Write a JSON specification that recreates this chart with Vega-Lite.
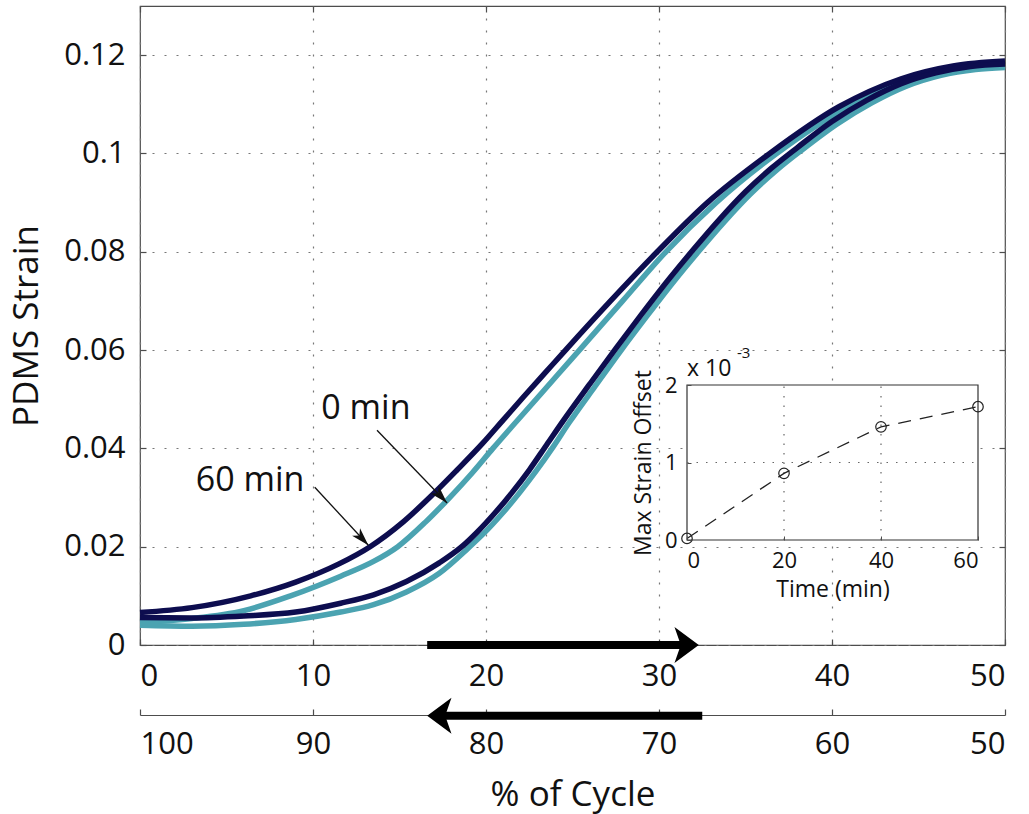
{
  "$schema": "https://vega.github.io/schema/vega-lite/v6.json",
  "width": 865,
  "height": 639,
  "autosize": {"type": "none"},
  "padding": {"left": 140, "top": 6, "right": 24, "bottom": 169},
  "background": "white",
  "config": {
    "view": {"stroke": "#4d4d4d", "strokeWidth": 1.2},
    "font": "Open Sans",
    "axis": {"labelFont": "Open Sans", "titleFont": "Open Sans", "labelColor": "#111", "titleColor": "#111", "domainColor": "#4d4d4d", "tickColor": "#4d4d4d", "titleFontWeight": "normal"}
  },
  "datasets": {
    "curves": [
      {"series": "60 min", "branch": "up", "x": 0, "y": 0.0066},
      {"series": "60 min", "branch": "up", "x": 3, "y": 0.0076},
      {"series": "60 min", "branch": "up", "x": 6.4, "y": 0.0100},
      {"series": "60 min", "branch": "up", "x": 9, "y": 0.0128},
      {"series": "60 min", "branch": "up", "x": 11.5, "y": 0.0165},
      {"series": "60 min", "branch": "up", "x": 13.3, "y": 0.0200},
      {"series": "60 min", "branch": "up", "x": 15.2, "y": 0.0250},
      {"series": "60 min", "branch": "up", "x": 16.8, "y": 0.0302},
      {"series": "60 min", "branch": "up", "x": 18.3, "y": 0.0355},
      {"series": "60 min", "branch": "up", "x": 19.8, "y": 0.0410},
      {"series": "60 min", "branch": "up", "x": 21.0, "y": 0.0458},
      {"series": "60 min", "branch": "up", "x": 22.2, "y": 0.0506},
      {"series": "60 min", "branch": "up", "x": 23.4, "y": 0.0553},
      {"series": "60 min", "branch": "up", "x": 24.6, "y": 0.0600},
      {"series": "60 min", "branch": "up", "x": 27.2, "y": 0.0700},
      {"series": "60 min", "branch": "up", "x": 29.9, "y": 0.0800},
      {"series": "60 min", "branch": "up", "x": 32.8, "y": 0.0900},
      {"series": "60 min", "branch": "up", "x": 36.4, "y": 0.1000},
      {"series": "60 min", "branch": "up", "x": 40.4, "y": 0.1095},
      {"series": "60 min", "branch": "up", "x": 44.0, "y": 0.1152},
      {"series": "60 min", "branch": "up", "x": 47.0, "y": 0.1178},
      {"series": "60 min", "branch": "up", "x": 50, "y": 0.1188},
      {"series": "0 min", "branch": "up", "x": 0, "y": 0.0046},
      {"series": "0 min", "branch": "up", "x": 3, "y": 0.0054},
      {"series": "0 min", "branch": "up", "x": 6, "y": 0.0070},
      {"series": "0 min", "branch": "up", "x": 8.7, "y": 0.0100},
      {"series": "0 min", "branch": "up", "x": 11.6, "y": 0.0140},
      {"series": "0 min", "branch": "up", "x": 13.5, "y": 0.0170},
      {"series": "0 min", "branch": "up", "x": 14.9, "y": 0.0200},
      {"series": "0 min", "branch": "up", "x": 16.5, "y": 0.0250},
      {"series": "0 min", "branch": "up", "x": 17.9, "y": 0.0300},
      {"series": "0 min", "branch": "up", "x": 19.2, "y": 0.0350},
      {"series": "0 min", "branch": "up", "x": 20.4, "y": 0.0400},
      {"series": "0 min", "branch": "up", "x": 22.9, "y": 0.0500},
      {"series": "0 min", "branch": "up", "x": 25.4, "y": 0.0600},
      {"series": "0 min", "branch": "up", "x": 27.9, "y": 0.0700},
      {"series": "0 min", "branch": "up", "x": 30.4, "y": 0.0800},
      {"series": "0 min", "branch": "up", "x": 33.3, "y": 0.0900},
      {"series": "0 min", "branch": "up", "x": 36.8, "y": 0.1000},
      {"series": "0 min", "branch": "up", "x": 40.8, "y": 0.1092},
      {"series": "0 min", "branch": "up", "x": 44.3, "y": 0.1146},
      {"series": "0 min", "branch": "up", "x": 47.2, "y": 0.1168},
      {"series": "0 min", "branch": "up", "x": 50, "y": 0.1178},
      {"series": "60 min", "branch": "down", "x": 0, "y": 0.0056},
      {"series": "60 min", "branch": "down", "x": 3, "y": 0.0055},
      {"series": "60 min", "branch": "down", "x": 6, "y": 0.0059},
      {"series": "60 min", "branch": "down", "x": 9, "y": 0.0067},
      {"series": "60 min", "branch": "down", "x": 11.6, "y": 0.0085},
      {"series": "60 min", "branch": "down", "x": 13.5, "y": 0.0102},
      {"series": "60 min", "branch": "down", "x": 15.4, "y": 0.0129},
      {"series": "60 min", "branch": "down", "x": 17.3, "y": 0.0167},
      {"series": "60 min", "branch": "down", "x": 18.6, "y": 0.0200},
      {"series": "60 min", "branch": "down", "x": 19.5, "y": 0.0230},
      {"series": "60 min", "branch": "down", "x": 20.5, "y": 0.0268},
      {"series": "60 min", "branch": "down", "x": 21.5, "y": 0.0310},
      {"series": "60 min", "branch": "down", "x": 22.5, "y": 0.0356},
      {"series": "60 min", "branch": "down", "x": 23.5, "y": 0.0407},
      {"series": "60 min", "branch": "down", "x": 24.5, "y": 0.0458},
      {"series": "60 min", "branch": "down", "x": 26.0, "y": 0.0531},
      {"series": "60 min", "branch": "down", "x": 27.5, "y": 0.0603},
      {"series": "60 min", "branch": "down", "x": 29.0, "y": 0.0673},
      {"series": "60 min", "branch": "down", "x": 30.5, "y": 0.0741},
      {"series": "60 min", "branch": "down", "x": 32.0, "y": 0.0805},
      {"series": "60 min", "branch": "down", "x": 33.5, "y": 0.0866},
      {"series": "60 min", "branch": "down", "x": 35.0, "y": 0.0922},
      {"series": "60 min", "branch": "down", "x": 36.5, "y": 0.0970},
      {"series": "60 min", "branch": "down", "x": 38.0, "y": 0.1012},
      {"series": "60 min", "branch": "down", "x": 40.0, "y": 0.1065},
      {"series": "60 min", "branch": "down", "x": 42.0, "y": 0.1108},
      {"series": "60 min", "branch": "down", "x": 44.0, "y": 0.1142},
      {"series": "60 min", "branch": "down", "x": 46.0, "y": 0.1164},
      {"series": "60 min", "branch": "down", "x": 48.0, "y": 0.1177},
      {"series": "60 min", "branch": "down", "x": 50, "y": 0.1182},
      {"series": "0 min", "branch": "down", "x": 0, "y": 0.0040},
      {"series": "0 min", "branch": "down", "x": 3, "y": 0.0038},
      {"series": "0 min", "branch": "down", "x": 6, "y": 0.0042},
      {"series": "0 min", "branch": "down", "x": 9, "y": 0.0052},
      {"series": "0 min", "branch": "down", "x": 11.6, "y": 0.0067},
      {"series": "0 min", "branch": "down", "x": 13.5, "y": 0.0082},
      {"series": "0 min", "branch": "down", "x": 15.4, "y": 0.0108},
      {"series": "0 min", "branch": "down", "x": 17.3, "y": 0.0146},
      {"series": "0 min", "branch": "down", "x": 19.0, "y": 0.0198},
      {"series": "0 min", "branch": "down", "x": 19.9, "y": 0.0228},
      {"series": "0 min", "branch": "down", "x": 20.9, "y": 0.0266},
      {"series": "0 min", "branch": "down", "x": 21.9, "y": 0.0308},
      {"series": "0 min", "branch": "down", "x": 22.9, "y": 0.0354},
      {"series": "0 min", "branch": "down", "x": 23.9, "y": 0.0404},
      {"series": "0 min", "branch": "down", "x": 24.8, "y": 0.0452},
      {"series": "0 min", "branch": "down", "x": 26.3, "y": 0.0526},
      {"series": "0 min", "branch": "down", "x": 27.8, "y": 0.0599},
      {"series": "0 min", "branch": "down", "x": 29.3, "y": 0.0669},
      {"series": "0 min", "branch": "down", "x": 30.8, "y": 0.0737},
      {"series": "0 min", "branch": "down", "x": 32.3, "y": 0.0801},
      {"series": "0 min", "branch": "down", "x": 33.8, "y": 0.0862},
      {"series": "0 min", "branch": "down", "x": 35.3, "y": 0.0918},
      {"series": "0 min", "branch": "down", "x": 36.8, "y": 0.0966},
      {"series": "0 min", "branch": "down", "x": 38.3, "y": 0.1008},
      {"series": "0 min", "branch": "down", "x": 40.3, "y": 0.1060},
      {"series": "0 min", "branch": "down", "x": 42.3, "y": 0.1103},
      {"series": "0 min", "branch": "down", "x": 44.3, "y": 0.1137},
      {"series": "0 min", "branch": "down", "x": 46.3, "y": 0.1159},
      {"series": "0 min", "branch": "down", "x": 48.3, "y": 0.1171},
      {"series": "0 min", "branch": "down", "x": 50, "y": 0.1175}
    ],
    "labels": [
      {"label": "0 min", "x": 13.06, "y": 0.048},
      {"label": "60 min", "x": 6.36, "y": 0.0334}
    ],
    "pointers": [
      {"label": "0 min", "x": 13.7, "y": 0.0437, "x2": 17.75, "y2": 0.0289},
      {"label": "60 min", "x": 10.1, "y": 0.0321, "x2": 13.2, "y2": 0.0203}
    ],
    "topArrow": [{"x": 16.6, "x2": 31.5, "y": 0, "tip": 32.3}],
    "bottomArrow": [{"x": 67.5, "x2": 82.6, "y": -0.01438, "tip": 83.4}],
    "inset": [
      {"t": 0, "offset": 0.00002},
      {"t": 20, "offset": 0.00086},
      {"t": 40, "offset": 0.00146},
      {"t": 60, "offset": 0.00172}
    ],
    "insetFrame": [{"t": 0, "t2": 60, "o": 0, "o2": 0.002}],
    "insetGridX": [{"t": 20, "o": 0, "o2": 0.002}, {"t": 40, "o": 0, "o2": 0.002}],
    "insetGridY": [{"t": 0, "t2": 60, "o": 0.001}],
    "multiplier": [{"text": "x 10", "t": 0, "o": 0.00221}],
    "exponent": [{"text": "-3", "t": 10.3, "o": 0.00241}]
  },
  "resolve": {"scale": {"x": "independent", "y": "independent"}, "axis": {"x": "independent", "y": "independent"}},
  "layer": [
    {
      "data": {"name": "curves"},
      "transform": [{"filter": "datum.series === '0 min'"}],
      "mark": {"type": "line", "strokeWidth": 5.5, "color": "#4ba3b1", "interpolate": "monotone"},
      "encoding": {
        "x": {"field": "x", "type": "quantitative", "scale": {"domain": [0, 50], "nice": false, "zero": false},
          "axis": {"orient": "bottom", "values": [0, 10, 20, 30, 40, 50], "grid": true, "gridDash": [2, 10], "gridColor": "#777", "gridWidth": 1.2, "domain": false, "tickSize": -6, "tickWidth": 1.2, "labelFontSize": 31, "labelPadding": 22, "title": null}},
        "y": {"field": "y", "type": "quantitative", "scale": {"domain": [0, 0.13], "nice": false},
          "axis": {"orient": "left", "values": [0, 0.02, 0.04, 0.06, 0.08, 0.1, 0.12], "format": "~g", "grid": true, "gridDash": [2, 10], "gridColor": "#777", "gridWidth": 1.2, "domain": false, "tickSize": -6, "tickWidth": 1.2, "labelFontSize": 31, "labelPadding": 21, "title": "PDMS Strain", "titleFontSize": 35, "titlePadding": 19}},
        "detail": {"field": "branch"}
      }
    },
    {
      "data": {"name": "curves"},
      "transform": [{"filter": "datum.series === '60 min'"}],
      "mark": {"type": "line", "strokeWidth": 5.5, "color": "#0d0d4f", "interpolate": "monotone"},
      "encoding": {
        "x": {"field": "x", "type": "quantitative", "scale": {"domain": [0, 50], "nice": false, "zero": false},
          "axis": {"orient": "top", "values": [0, 10, 20, 30, 40, 50], "labels": false, "grid": false, "domain": false, "tickSize": -6, "tickWidth": 1.2, "title": null}},
        "y": {"field": "y", "type": "quantitative", "scale": {"domain": [0, 0.13], "nice": false},
          "axis": {"orient": "right", "values": [0, 0.02, 0.04, 0.06, 0.08, 0.1, 0.12], "labels": false, "grid": false, "domain": false, "tickSize": -6, "tickWidth": 1.2, "title": null}},
        "detail": {"field": "branch"}
      }
    },
    {
      "layer": [
        {
          "data": {"name": "labels"},
          "mark": {"type": "text", "fontSize": 34, "font": "Open Sans", "color": "#111", "align": "center", "baseline": "middle"},
          "encoding": {
            "x": {"field": "x", "type": "quantitative", "scale": {"domain": [0, 50], "nice": false, "zero": false}, "axis": null},
            "y": {"field": "y", "type": "quantitative", "scale": {"domain": [0, 0.13], "nice": false}, "axis": null},
            "text": {"field": "label"}
          }
        },
        {
          "data": {"name": "pointers"},
          "mark": {"type": "rule", "strokeWidth": 1.3, "color": "#111"},
          "encoding": {
            "x": {"field": "x", "type": "quantitative", "axis": null},
            "y": {"field": "y", "type": "quantitative", "axis": null},
            "x2": {"field": "x2"},
            "y2": {"field": "y2"}
          }
        },
        {
          "data": {"name": "pointers"},
          "mark": {"type": "point", "shape": "M0,0L-0.45,1.5L0,1.1L0.45,1.5Z", "size": 576, "angle": 137, "filled": true, "color": "#111", "opacity": 1, "strokeWidth": 0},
          "encoding": {
            "x": {"field": "x2", "type": "quantitative", "axis": null},
            "y": {"field": "y2", "type": "quantitative", "axis": null}
          }
        },
        {
          "data": {"name": "topArrow"},
          "mark": {"type": "rule", "strokeWidth": 8, "color": "#000", "strokeCap": "butt"},
          "encoding": {
            "x": {"field": "x", "type": "quantitative", "axis": null},
            "x2": {"field": "x2"},
            "y": {"field": "y", "type": "quantitative", "axis": null}
          }
        },
        {
          "data": {"name": "topArrow"},
          "mark": {"type": "point", "shape": "M0,0L-1,1.35L0,1L1,1.35Z", "size": 1296, "angle": 90, "filled": true, "color": "#000", "opacity": 1, "strokeWidth": 0},
          "encoding": {
            "x": {"field": "tip", "type": "quantitative", "axis": null},
            "y": {"field": "y", "type": "quantitative", "axis": null}
          }
        }
      ]
    },
    {
      "layer": [
        {
          "data": {"name": "bottomArrow"},
          "mark": {"type": "rule", "strokeWidth": 8, "color": "#000", "strokeCap": "butt"},
          "encoding": {
            "x": {"field": "x", "type": "quantitative", "scale": {"domain": [50, 100], "reverse": true, "nice": false, "zero": false},
              "axis": {"orient": "bottom", "offset": 70, "values": [50, 60, 70, 80, 90, 100], "grid": false, "domain": true, "domainWidth": 1.2, "tickSize": -6, "tickWidth": 1.2, "labelFontSize": 31, "labelPadding": 20, "title": "% of Cycle", "titleFontSize": 35, "titlePadding": 18}},
            "x2": {"field": "x2"},
            "y": {"field": "y", "type": "quantitative", "scale": {"domain": [0, 0.13], "nice": false}, "axis": null}
          }
        },
        {
          "data": {"name": "bottomArrow"},
          "mark": {"type": "point", "shape": "M0,0L-1,1.35L0,1L1,1.35Z", "size": 1296, "angle": 270, "filled": true, "color": "#000", "opacity": 1, "strokeWidth": 0},
          "encoding": {
            "x": {"field": "tip", "type": "quantitative"},
            "y": {"field": "y", "type": "quantitative"}
          }
        }
      ]
    },
    {
      "layer": [
        {
          "data": {"name": "insetFrame"},
          "mark": {"type": "rect", "fill": "white", "stroke": "#333", "strokeWidth": 1.2},
          "encoding": {
            "x": {"field": "t", "type": "quantitative", "scale": {"domain": [0, 60], "range": [547, 838], "nice": false, "zero": false},
              "axis": {"orient": "bottom", "offset": -105, "values": [0, 20, 40, 60], "zindex": 1, "grid": false, "domain": false, "tickSize": -4, "tickWidth": 1, "labelFontSize": 22, "labelPadding": 14, "title": "Time (min)", "titleFontSize": 23, "titlePadding": 7}},
            "x2": {"field": "t2"},
            "y": {"field": "o", "type": "quantitative", "scale": {"domain": [0, 0.002], "range": [534, 379], "nice": false},
              "axis": {"orient": "left", "offset": -547, "values": [0, 0.001, 0.002], "labelExpr": "format(datum.value*1000, '~g')", "zindex": 1, "grid": false, "domain": false, "tickSize": -4, "tickWidth": 1, "labelFontSize": 22, "labelPadding": 14, "title": "Max Strain Offset", "titleFontSize": 23, "titlePadding": 9}},
            "y2": {"field": "o2"}
          }
        },
        {
          "data": {"name": "insetGridX"},
          "mark": {"type": "rule", "strokeDash": [1.5, 8], "color": "#666", "strokeWidth": 1.2},
          "encoding": {
            "x": {"field": "t", "type": "quantitative"},
            "y": {"field": "o", "type": "quantitative"},
            "y2": {"field": "o2"}
          }
        },
        {
          "data": {"name": "insetGridY"},
          "mark": {"type": "rule", "strokeDash": [1.5, 8], "color": "#666", "strokeWidth": 1.2},
          "encoding": {
            "x": {"field": "t", "type": "quantitative"},
            "x2": {"field": "t2"},
            "y": {"field": "o", "type": "quantitative"}
          }
        },
        {
          "data": {"name": "inset"},
          "mark": {"type": "line", "strokeDash": [13, 9], "color": "#222", "strokeWidth": 1.3},
          "encoding": {
            "x": {"field": "t", "type": "quantitative"},
            "y": {"field": "offset", "type": "quantitative"}
          }
        },
        {
          "data": {"name": "inset"},
          "mark": {"type": "point", "shape": "circle", "size": 110, "filled": false, "color": "#222", "strokeWidth": 1.2, "opacity": 1},
          "encoding": {
            "x": {"field": "t", "type": "quantitative"},
            "y": {"field": "offset", "type": "quantitative"}
          }
        },
        {
          "data": {"name": "multiplier"},
          "mark": {"type": "text", "fontSize": 23, "font": "Open Sans", "color": "#111", "align": "left", "baseline": "middle"},
          "encoding": {
            "x": {"field": "t", "type": "quantitative"},
            "y": {"field": "o", "type": "quantitative"},
            "text": {"field": "text"}
          }
        },
        {
          "data": {"name": "exponent"},
          "mark": {"type": "text", "fontSize": 15, "font": "Open Sans", "color": "#111", "align": "left", "baseline": "middle"},
          "encoding": {
            "x": {"field": "t", "type": "quantitative"},
            "y": {"field": "o", "type": "quantitative"},
            "text": {"field": "text"}
          }
        }
      ]
    }
  ]
}
